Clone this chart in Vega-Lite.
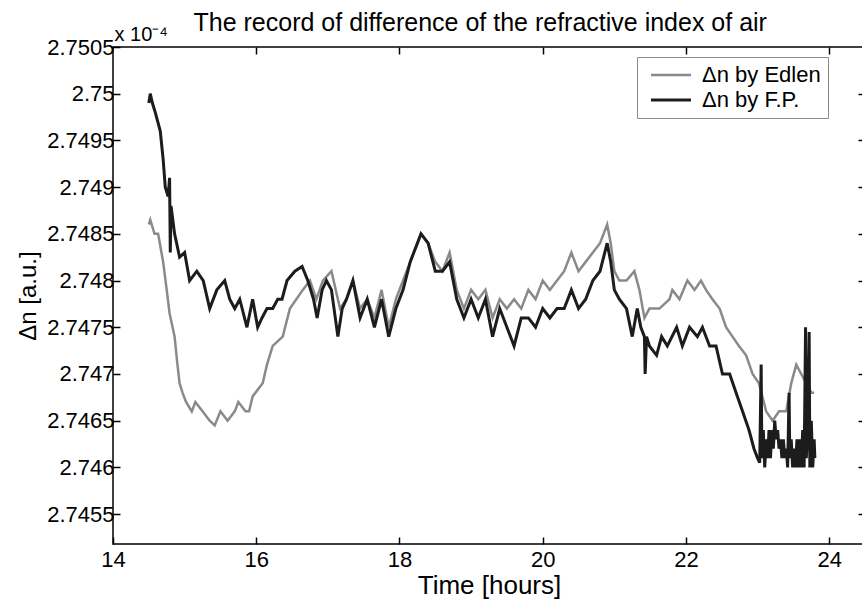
{
  "$schema": "https://vega.github.io/schema/vega-lite/v6.json",
  "width": 752,
  "height": 497,
  "autosize": {"type": "none"},
  "padding": {"left": 113, "top": 47, "right": 0, "bottom": 61},
  "background": "white",
  "config": {
    "font": "Liberation Sans, Arial, sans-serif",
    "view": {"stroke": "black", "strokeWidth": 1.5},
    "axis": {"labelColor": "black", "titleColor": "black", "titleFontWeight": "normal", "grid": false, "domain": false, "tickColor": "black", "tickWidth": 1.5, "tickSize": -7, "labelFlush": false, "labelOverlap": false}
  },
  "data": {"values": [
    {"s":"Edlen","t":14.50,"v":2.7486},{"s":"Edlen","t":14.52,"v":2.74865},{"s":"Edlen","t":14.58,"v":2.7485},{"s":"Edlen","t":14.63,"v":2.7485},{"s":"Edlen","t":14.70,"v":2.7482},{"s":"Edlen","t":14.75,"v":2.7479},{"s":"Edlen","t":14.79,"v":2.74765},{"s":"Edlen","t":14.86,"v":2.7474},{"s":"Edlen","t":14.90,"v":2.7471},{"s":"Edlen","t":14.93,"v":2.7469},{"s":"Edlen","t":14.97,"v":2.7468},{"s":"Edlen","t":15.02,"v":2.7467},{"s":"Edlen","t":15.10,"v":2.7466},{"s":"Edlen","t":15.15,"v":2.7467},{"s":"Edlen","t":15.25,"v":2.7466},{"s":"Edlen","t":15.35,"v":2.7465},{"s":"Edlen","t":15.42,"v":2.74645},{"s":"Edlen","t":15.50,"v":2.7466},{"s":"Edlen","t":15.60,"v":2.7465},{"s":"Edlen","t":15.70,"v":2.7466},{"s":"Edlen","t":15.75,"v":2.7467},{"s":"Edlen","t":15.85,"v":2.7466},{"s":"Edlen","t":15.90,"v":2.7466},{"s":"Edlen","t":15.95,"v":2.74676},{"s":"Edlen","t":16.09,"v":2.7469},{"s":"Edlen","t":16.15,"v":2.7471},{"s":"Edlen","t":16.23,"v":2.7473},{"s":"Edlen","t":16.37,"v":2.7474},{"s":"Edlen","t":16.47,"v":2.7477},{"s":"Edlen","t":16.56,"v":2.7478},{"s":"Edlen","t":16.65,"v":2.7479},{"s":"Edlen","t":16.75,"v":2.7480},{"s":"Edlen","t":16.84,"v":2.7478},{"s":"Edlen","t":16.93,"v":2.7480},{"s":"Edlen","t":17.05,"v":2.7481},{"s":"Edlen","t":17.17,"v":2.7477},{"s":"Edlen","t":17.26,"v":2.7478},{"s":"Edlen","t":17.35,"v":2.7480},
    {"s":"Edlen","t":17.45,"v":2.7477},{"s":"Edlen","t":17.55,"v":2.7478},{"s":"Edlen","t":17.65,"v":2.7476},{"s":"Edlen","t":17.75,"v":2.7479},{"s":"Edlen","t":17.85,"v":2.7475},{"s":"Edlen","t":17.95,"v":2.7478},{"s":"Edlen","t":18.05,"v":2.7480},{"s":"Edlen","t":18.15,"v":2.7482},{"s":"Edlen","t":18.25,"v":2.7484},{"s":"Edlen","t":18.30,"v":2.7485},{"s":"Edlen","t":18.40,"v":2.7484},{"s":"Edlen","t":18.50,"v":2.7482},{"s":"Edlen","t":18.60,"v":2.7481},{"s":"Edlen","t":18.70,"v":2.7483},{"s":"Edlen","t":18.80,"v":2.7479},{"s":"Edlen","t":18.90,"v":2.7477},{"s":"Edlen","t":19.00,"v":2.7479},{"s":"Edlen","t":19.10,"v":2.7478},{"s":"Edlen","t":19.20,"v":2.7479},{"s":"Edlen","t":19.30,"v":2.7476},{"s":"Edlen","t":19.40,"v":2.7478},{"s":"Edlen","t":19.50,"v":2.7477},{"s":"Edlen","t":19.60,"v":2.7478},{"s":"Edlen","t":19.70,"v":2.7477},{"s":"Edlen","t":19.80,"v":2.7479},{"s":"Edlen","t":19.90,"v":2.7478},{"s":"Edlen","t":20.00,"v":2.7480},{"s":"Edlen","t":20.10,"v":2.7479},{"s":"Edlen","t":20.20,"v":2.7480},{"s":"Edlen","t":20.30,"v":2.7481},{"s":"Edlen","t":20.40,"v":2.7483},{"s":"Edlen","t":20.50,"v":2.7481},{"s":"Edlen","t":20.60,"v":2.7482},{"s":"Edlen","t":20.70,"v":2.7483},{"s":"Edlen","t":20.80,"v":2.7484},{"s":"Edlen","t":20.90,"v":2.7486},{"s":"Edlen","t":20.95,"v":2.7484},{"s":"Edlen","t":21.00,"v":2.7481},
    {"s":"Edlen","t":21.07,"v":2.7480},{"s":"Edlen","t":21.17,"v":2.7480},{"s":"Edlen","t":21.28,"v":2.7481},{"s":"Edlen","t":21.35,"v":2.7479},{"s":"Edlen","t":21.42,"v":2.7476},{"s":"Edlen","t":21.49,"v":2.7477},{"s":"Edlen","t":21.63,"v":2.7477},{"s":"Edlen","t":21.77,"v":2.7478},{"s":"Edlen","t":21.81,"v":2.7479},{"s":"Edlen","t":21.91,"v":2.7478},{"s":"Edlen","t":22.02,"v":2.7480},{"s":"Edlen","t":22.12,"v":2.7479},{"s":"Edlen","t":22.21,"v":2.7480},{"s":"Edlen","t":22.28,"v":2.7479},{"s":"Edlen","t":22.37,"v":2.7478},{"s":"Edlen","t":22.47,"v":2.7477},{"s":"Edlen","t":22.56,"v":2.7475},{"s":"Edlen","t":22.65,"v":2.7474},{"s":"Edlen","t":22.74,"v":2.7473},{"s":"Edlen","t":22.84,"v":2.7472},{"s":"Edlen","t":22.93,"v":2.7470},{"s":"Edlen","t":23.02,"v":2.7469},{"s":"Edlen","t":23.12,"v":2.7466},{"s":"Edlen","t":23.21,"v":2.7465},{"s":"Edlen","t":23.30,"v":2.7466},{"s":"Edlen","t":23.40,"v":2.7466},{"s":"Edlen","t":23.47,"v":2.7469},{"s":"Edlen","t":23.54,"v":2.7471},{"s":"Edlen","t":23.61,"v":2.7470},{"s":"Edlen","t":23.68,"v":2.7469},{"s":"Edlen","t":23.75,"v":2.7468},{"s":"Edlen","t":23.79,"v":2.7468},
    {"s":"F.P.","t":14.50,"v":2.7499},{"s":"F.P.","t":14.52,"v":2.7500},{"s":"F.P.","t":14.55,"v":2.7499},{"s":"F.P.","t":14.59,"v":2.7498},{"s":"F.P.","t":14.66,"v":2.7496},{"s":"F.P.","t":14.70,"v":2.7493},{"s":"F.P.","t":14.73,"v":2.7490},{"s":"F.P.","t":14.77,"v":2.7489},{"s":"F.P.","t":14.78,"v":2.7490},{"s":"F.P.","t":14.79,"v":2.7491},{"s":"F.P.","t":14.80,"v":2.7483},{"s":"F.P.","t":14.81,"v":2.7488},{"s":"F.P.","t":14.86,"v":2.7485},{"s":"F.P.","t":14.93,"v":2.74825},{"s":"F.P.","t":15.00,"v":2.7483},{"s":"F.P.","t":15.07,"v":2.7480},{"s":"F.P.","t":15.17,"v":2.7481},{"s":"F.P.","t":15.26,"v":2.7480},{"s":"F.P.","t":15.35,"v":2.7477},{"s":"F.P.","t":15.45,"v":2.7479},{"s":"F.P.","t":15.56,"v":2.7480},{"s":"F.P.","t":15.63,"v":2.7478},{"s":"F.P.","t":15.70,"v":2.7477},{"s":"F.P.","t":15.77,"v":2.7478},{"s":"F.P.","t":15.87,"v":2.7475},{"s":"F.P.","t":15.95,"v":2.7478},{"s":"F.P.","t":16.02,"v":2.7475},{"s":"F.P.","t":16.08,"v":2.7476},{"s":"F.P.","t":16.15,"v":2.7477},{"s":"F.P.","t":16.23,"v":2.7477},{"s":"F.P.","t":16.30,"v":2.7478},{"s":"F.P.","t":16.36,"v":2.7478},{"s":"F.P.","t":16.43,"v":2.7480},{"s":"F.P.","t":16.54,"v":2.7481},{"s":"F.P.","t":16.64,"v":2.74815},{"s":"F.P.","t":16.72,"v":2.7480},{"s":"F.P.","t":16.80,"v":2.7478},{"s":"F.P.","t":16.85,"v":2.7476},{"s":"F.P.","t":16.92,"v":2.7479},{"s":"F.P.","t":16.98,"v":2.7480},{"s":"F.P.","t":17.05,"v":2.7479},{"s":"F.P.","t":17.14,"v":2.7474},{"s":"F.P.","t":17.20,"v":2.7477},{"s":"F.P.","t":17.26,"v":2.7478},{"s":"F.P.","t":17.35,"v":2.7480},
    {"s":"F.P.","t":17.45,"v":2.7476},{"s":"F.P.","t":17.55,"v":2.7478},{"s":"F.P.","t":17.65,"v":2.7475},{"s":"F.P.","t":17.75,"v":2.7478},{"s":"F.P.","t":17.85,"v":2.7474},{"s":"F.P.","t":17.95,"v":2.7477},{"s":"F.P.","t":18.05,"v":2.7479},{"s":"F.P.","t":18.15,"v":2.7482},{"s":"F.P.","t":18.25,"v":2.7484},{"s":"F.P.","t":18.30,"v":2.7485},{"s":"F.P.","t":18.40,"v":2.7484},{"s":"F.P.","t":18.50,"v":2.7481},{"s":"F.P.","t":18.60,"v":2.7481},{"s":"F.P.","t":18.70,"v":2.7482},{"s":"F.P.","t":18.80,"v":2.7478},{"s":"F.P.","t":18.90,"v":2.7476},{"s":"F.P.","t":19.00,"v":2.7478},{"s":"F.P.","t":19.10,"v":2.7476},{"s":"F.P.","t":19.20,"v":2.7478},{"s":"F.P.","t":19.30,"v":2.7474},{"s":"F.P.","t":19.40,"v":2.7477},{"s":"F.P.","t":19.50,"v":2.7475},{"s":"F.P.","t":19.60,"v":2.7473},{"s":"F.P.","t":19.70,"v":2.7476},{"s":"F.P.","t":19.80,"v":2.7476},{"s":"F.P.","t":19.90,"v":2.7475},{"s":"F.P.","t":20.00,"v":2.7477},{"s":"F.P.","t":20.10,"v":2.7476},{"s":"F.P.","t":20.20,"v":2.7477},{"s":"F.P.","t":20.30,"v":2.7477},{"s":"F.P.","t":20.40,"v":2.7479},{"s":"F.P.","t":20.50,"v":2.7477},{"s":"F.P.","t":20.60,"v":2.7478},{"s":"F.P.","t":20.70,"v":2.7480},{"s":"F.P.","t":20.80,"v":2.7481},{"s":"F.P.","t":20.90,"v":2.7484},{"s":"F.P.","t":20.95,"v":2.7482},{"s":"F.P.","t":21.00,"v":2.7479},
    {"s":"F.P.","t":21.07,"v":2.7478},{"s":"F.P.","t":21.17,"v":2.7477},{"s":"F.P.","t":21.25,"v":2.7474},{"s":"F.P.","t":21.32,"v":2.7477},{"s":"F.P.","t":21.37,"v":2.7475},{"s":"F.P.","t":21.42,"v":2.7474},{"s":"F.P.","t":21.43,"v":2.7470},{"s":"F.P.","t":21.45,"v":2.7474},{"s":"F.P.","t":21.49,"v":2.7473},{"s":"F.P.","t":21.59,"v":2.7472},{"s":"F.P.","t":21.66,"v":2.7474},{"s":"F.P.","t":21.74,"v":2.7473},{"s":"F.P.","t":21.87,"v":2.7475},{"s":"F.P.","t":21.95,"v":2.7473},{"s":"F.P.","t":22.05,"v":2.7475},{"s":"F.P.","t":22.16,"v":2.7474},{"s":"F.P.","t":22.23,"v":2.7475},{"s":"F.P.","t":22.33,"v":2.7473},{"s":"F.P.","t":22.42,"v":2.7473},{"s":"F.P.","t":22.51,"v":2.7470},{"s":"F.P.","t":22.61,"v":2.7470},{"s":"F.P.","t":22.70,"v":2.7468},{"s":"F.P.","t":22.79,"v":2.7466},{"s":"F.P.","t":22.88,"v":2.7464},{"s":"F.P.","t":22.95,"v":2.7462},{"s":"F.P.","t":23.00,"v":2.7461},{"s":"F.P.","t":23.03,"v":2.74605},{"s":"F.P.","t":23.05,"v":2.7471},{"s":"F.P.","t":23.06,"v":2.7461},
    {"s":"F.P.","t":23.08,"v":2.7464},{"s":"F.P.","t":23.10,"v":2.7460},{"s":"F.P.","t":23.12,"v":2.7463},{"s":"F.P.","t":23.14,"v":2.7461},{"s":"F.P.","t":23.16,"v":2.7464},{"s":"F.P.","t":23.18,"v":2.7461},{"s":"F.P.","t":23.20,"v":2.7464},{"s":"F.P.","t":23.22,"v":2.7462},{"s":"F.P.","t":23.24,"v":2.7465},{"s":"F.P.","t":23.26,"v":2.7463},{"s":"F.P.","t":23.28,"v":2.7464},{"s":"F.P.","t":23.30,"v":2.7462},{"s":"F.P.","t":23.32,"v":2.7463},{"s":"F.P.","t":23.34,"v":2.7461},{"s":"F.P.","t":23.36,"v":2.7463},{"s":"F.P.","t":23.38,"v":2.7461},{"s":"F.P.","t":23.40,"v":2.7462},{"s":"F.P.","t":23.42,"v":2.7460},{"s":"F.P.","t":23.44,"v":2.7468},{"s":"F.P.","t":23.45,"v":2.7461},{"s":"F.P.","t":23.47,"v":2.7463},{"s":"F.P.","t":23.49,"v":2.7460},{"s":"F.P.","t":23.51,"v":2.7462},{"s":"F.P.","t":23.53,"v":2.7460},{"s":"F.P.","t":23.55,"v":2.7463},{"s":"F.P.","t":23.57,"v":2.7460},{"s":"F.P.","t":23.59,"v":2.7463},{"s":"F.P.","t":23.61,"v":2.7460},{"s":"F.P.","t":23.63,"v":2.7464},{"s":"F.P.","t":23.65,"v":2.7460},{"s":"F.P.","t":23.67,"v":2.7475},{"s":"F.P.","t":23.68,"v":2.7461},{"s":"F.P.","t":23.70,"v":2.7464},{"s":"F.P.","t":23.72,"v":2.74745},{"s":"F.P.","t":23.73,"v":2.7460},{"s":"F.P.","t":23.75,"v":2.7465},{"s":"F.P.","t":23.77,"v":2.7460},{"s":"F.P.","t":23.79,"v":2.7463},{"s":"F.P.","t":23.80,"v":2.7461}
  ]},
  "layer": [
    {
      "mark": {"type": "line", "clip": true},
      "encoding": {
        "x": {"field": "t", "type": "quantitative", "scale": {"domain": [14, 24.5], "nice": false, "zero": false},
          "axis": {"orient": "bottom", "values": [14, 16, 18, 20, 22, 24], "labelFontSize": 22, "labelPadding": 12, "title": "Time [hours]", "titleFontSize": 26, "titlePadding": 2}},
        "y": {"field": "v", "type": "quantitative", "scale": {"domain": [2.74518, 2.7505], "nice": false, "zero": false},
          "axis": {"orient": "left", "values": [2.7455, 2.746, 2.7465, 2.747, 2.7475, 2.748, 2.7485, 2.749, 2.7495, 2.75, 2.7505], "labelExpr": "format(datum.value, '.5~f')", "labelFontSize": 22, "labelPadding": 6, "title": "Δn [a.u.]", "titleFontSize": 24, "titlePadding": 6}},
        "color": {"field": "s", "type": "nominal",
          "scale": {"domain": ["Edlen", "F.P."], "range": ["#8a8a8a", "#1c1c1c"]},
          "legend": {"orient": "none", "legendX": 524, "legendY": 10, "title": null, "labelExpr": "'Δn by ' + datum.label", "strokeColor": "#8a8a8a", "fillColor": "white", "padding": 7, "symbolType": "M-4,0H4", "symbolSize": 100, "symbolOffset": 16, "symbolStrokeWidth": 1.5, "labelFontSize": 22, "labelOffset": 20, "rowPadding": 3}},
        "strokeWidth": {"field": "s", "type": "nominal", "scale": {"domain": ["Edlen", "F.P."], "range": [2.5, 3]}, "legend": null}
      }
    },
    {
      "mark": {"type": "line", "opacity": 0},
      "encoding": {
        "x": {"field": "t", "type": "quantitative", "axis": {"orient": "top", "values": [16, 18, 20, 22, 24], "labels": false, "title": "The record of difference of the refractive index of air", "titleFontSize": 25, "titleX": 80, "titleY": -17, "titleAlign": "left", "titleAnchor": "start", "titleBaseline": "alphabetic"}},
        "y": {"field": "v", "type": "quantitative", "axis": {"orient": "right", "values": [2.7455, 2.746, 2.7465, 2.747, 2.7475, 2.748, 2.7485, 2.749, 2.7495, 2.75], "labels": false, "title": "x 10⁻⁴", "titleFontSize": 20, "titleAngle": 0, "titleX": -751, "titleY": -7, "titleAlign": "left", "titleBaseline": "alphabetic"}}
      }
    }
  ],
  "resolve": {"axis": {"x": "independent", "y": "independent"}}
}
